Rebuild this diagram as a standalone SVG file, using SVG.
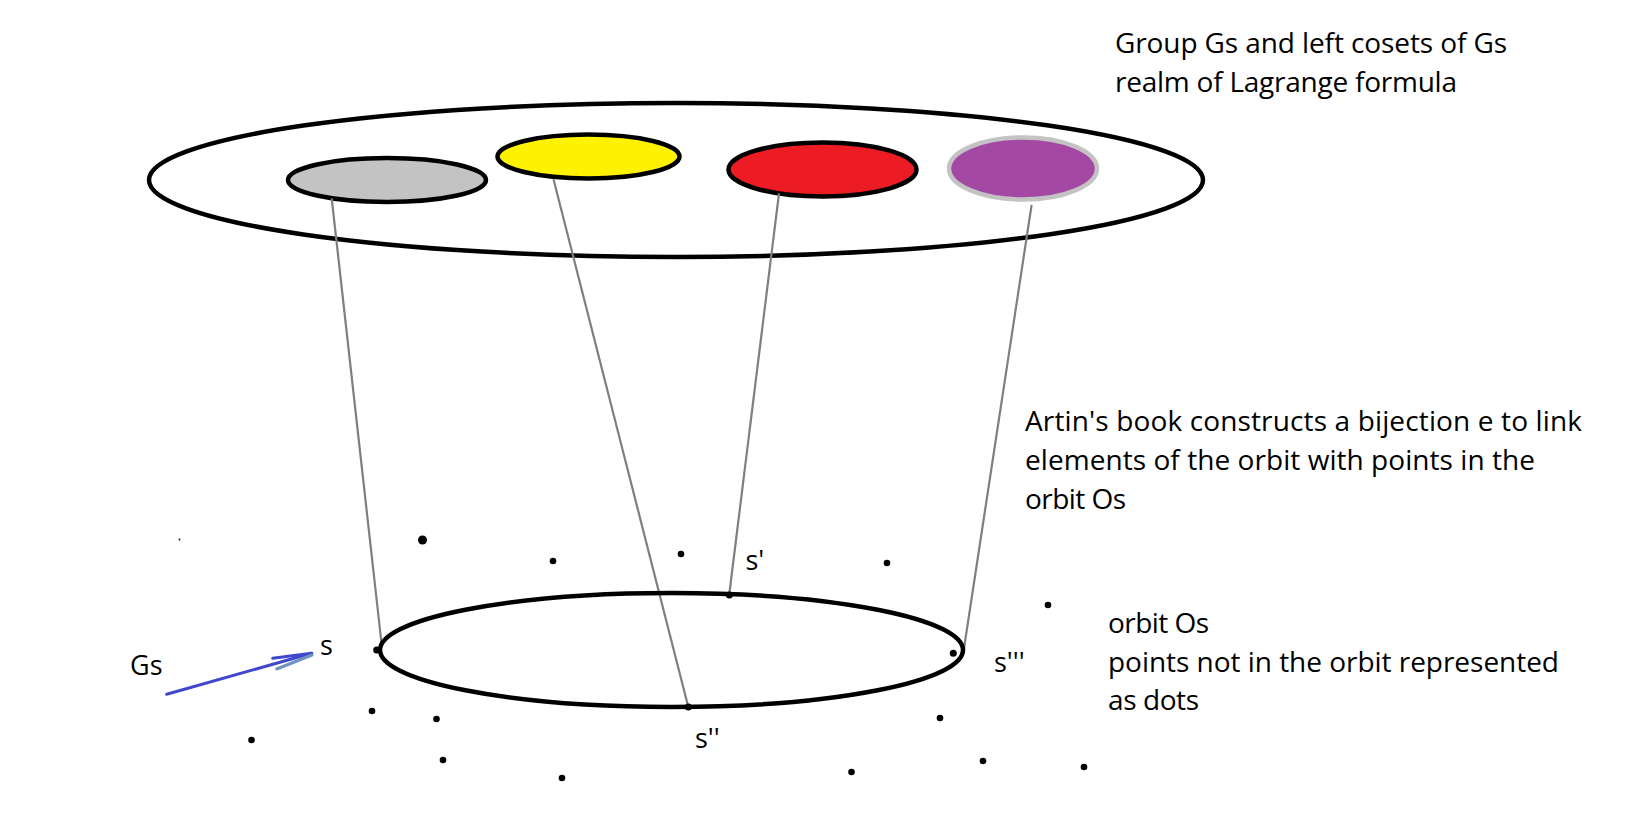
<svg xmlns="http://www.w3.org/2000/svg" width="1629" height="818" viewBox="0 0 1629 818">
<style>
.t{font-family:"Open Sans","Noto Sans","Liberation Sans",sans-serif;font-size:28px;fill:#000}
.l{font-family:"Open Sans","Noto Sans","Liberation Sans",sans-serif;font-size:27px;fill:#000}
.ring{fill:none;stroke:#000;stroke-width:4.5}
.coset{stroke:#000;stroke-width:4.5}
.link{stroke:#7f7f7f;stroke-width:2.2;fill:none}
.dot{fill:#000}
</style>
<rect width="1629" height="818" fill="#fff"/>
<g id="group-Gs">
<ellipse class="ring" cx="676" cy="180" rx="527" ry="77"/>
</g>
<g id="coset-gray"><ellipse class="coset" cx="387" cy="180" rx="99" ry="22" fill="#c3c3c3"/></g>
<g id="coset-yellow"><ellipse class="coset" cx="588.5" cy="156.5" rx="91" ry="22" fill="#fff200"/></g>
<g id="coset-red"><ellipse class="coset" cx="822.5" cy="169.5" rx="94" ry="27" fill="#ed1c24"/></g>
<g id="coset-purple"><ellipse cx="1023" cy="168.5" rx="74" ry="31" fill="#a349a4" stroke="#c3c3c3" stroke-width="4.5"/></g>
<g id="connectors">
<line class="link" x1="331.7" y1="198.3" x2="381.7" y2="645"/>
<line class="link" x1="553.5" y1="179.3" x2="688.3" y2="707"/>
<line class="link" x1="779" y1="193.3" x2="729.3" y2="594"/>
<line class="link" x1="1031.6" y1="205" x2="964" y2="648.3"/>
<g id="arrow-Gs" stroke-width="3" stroke-linecap="round">
<line x1="166.7" y1="694.3" x2="311.7" y2="653.3" stroke="#3f48cc"/>
<line x1="272.7" y1="658.3" x2="311.7" y2="653.3" stroke="#3f48cc"/>
<line x1="276.7" y1="669" x2="312" y2="655" stroke="#7092be"/>
</g>
</g>
<g id="orbit-Os">
<ellipse class="ring" cx="671.5" cy="650" rx="291.5" ry="57"/>
<circle class="dot" cx="376.7" cy="650" r="3.5"/>
<circle class="dot" cx="729.3" cy="595" r="3.5"/>
<circle class="dot" cx="688.3" cy="707" r="3.5"/>
<circle class="dot" cx="953.3" cy="653.3" r="3.5"/>
</g>
<g id="other-points">
<circle class="dot" cx="179.5" cy="539.5" r="0.9"/>
<circle class="dot" cx="422.5" cy="540" r="4.5"/>
<circle class="dot" cx="553" cy="561" r="3.3"/>
<circle class="dot" cx="681" cy="554" r="3.3"/>
<circle class="dot" cx="887" cy="563" r="3.3"/>
<circle class="dot" cx="1048" cy="605" r="3.3"/>
<circle class="dot" cx="372" cy="711" r="3.3"/>
<circle class="dot" cx="436.5" cy="719" r="3.3"/>
<circle class="dot" cx="251.5" cy="740" r="3.3"/>
<circle class="dot" cx="443" cy="760" r="3.3"/>
<circle class="dot" cx="562" cy="778" r="3.3"/>
<circle class="dot" cx="940" cy="718" r="3.3"/>
<circle class="dot" cx="983" cy="761" r="3.3"/>
<circle class="dot" cx="851.5" cy="772" r="3.3"/>
<circle class="dot" cx="1084" cy="767" r="3.3"/>
</g>
<g id="labels">
<text class="l" x="320" y="655">s</text>
<text class="l" x="130" y="675">Gs</text>
<text class="l" x="745.5" y="570">s'</text>
<text class="l" x="695" y="748">s''</text>
<text class="l" x="994" y="672">s'''</text>
</g>
<g id="caption-top">
<text class="t" x="1115" y="53" textLength="392">Group Gs and left cosets of Gs</text>
<text class="t" x="1115" y="92" textLength="342">realm of Lagrange formula</text>
</g>
<g id="caption-middle">
<text class="t" x="1025" y="431" textLength="557">Artin's book constructs a bijection e to link</text>
<text class="t" x="1025" y="470" textLength="510">elements of the orbit with points in the</text>
<text class="t" x="1025" y="508.5" textLength="101">orbit Os</text>
</g>
<g id="caption-bottom">
<text class="t" x="1108" y="633" textLength="101">orbit Os</text>
<text class="t" x="1108" y="672" textLength="451">points not in the orbit represented</text>
<text class="t" x="1108" y="710" textLength="91">as dots</text>
</g>
</svg>
